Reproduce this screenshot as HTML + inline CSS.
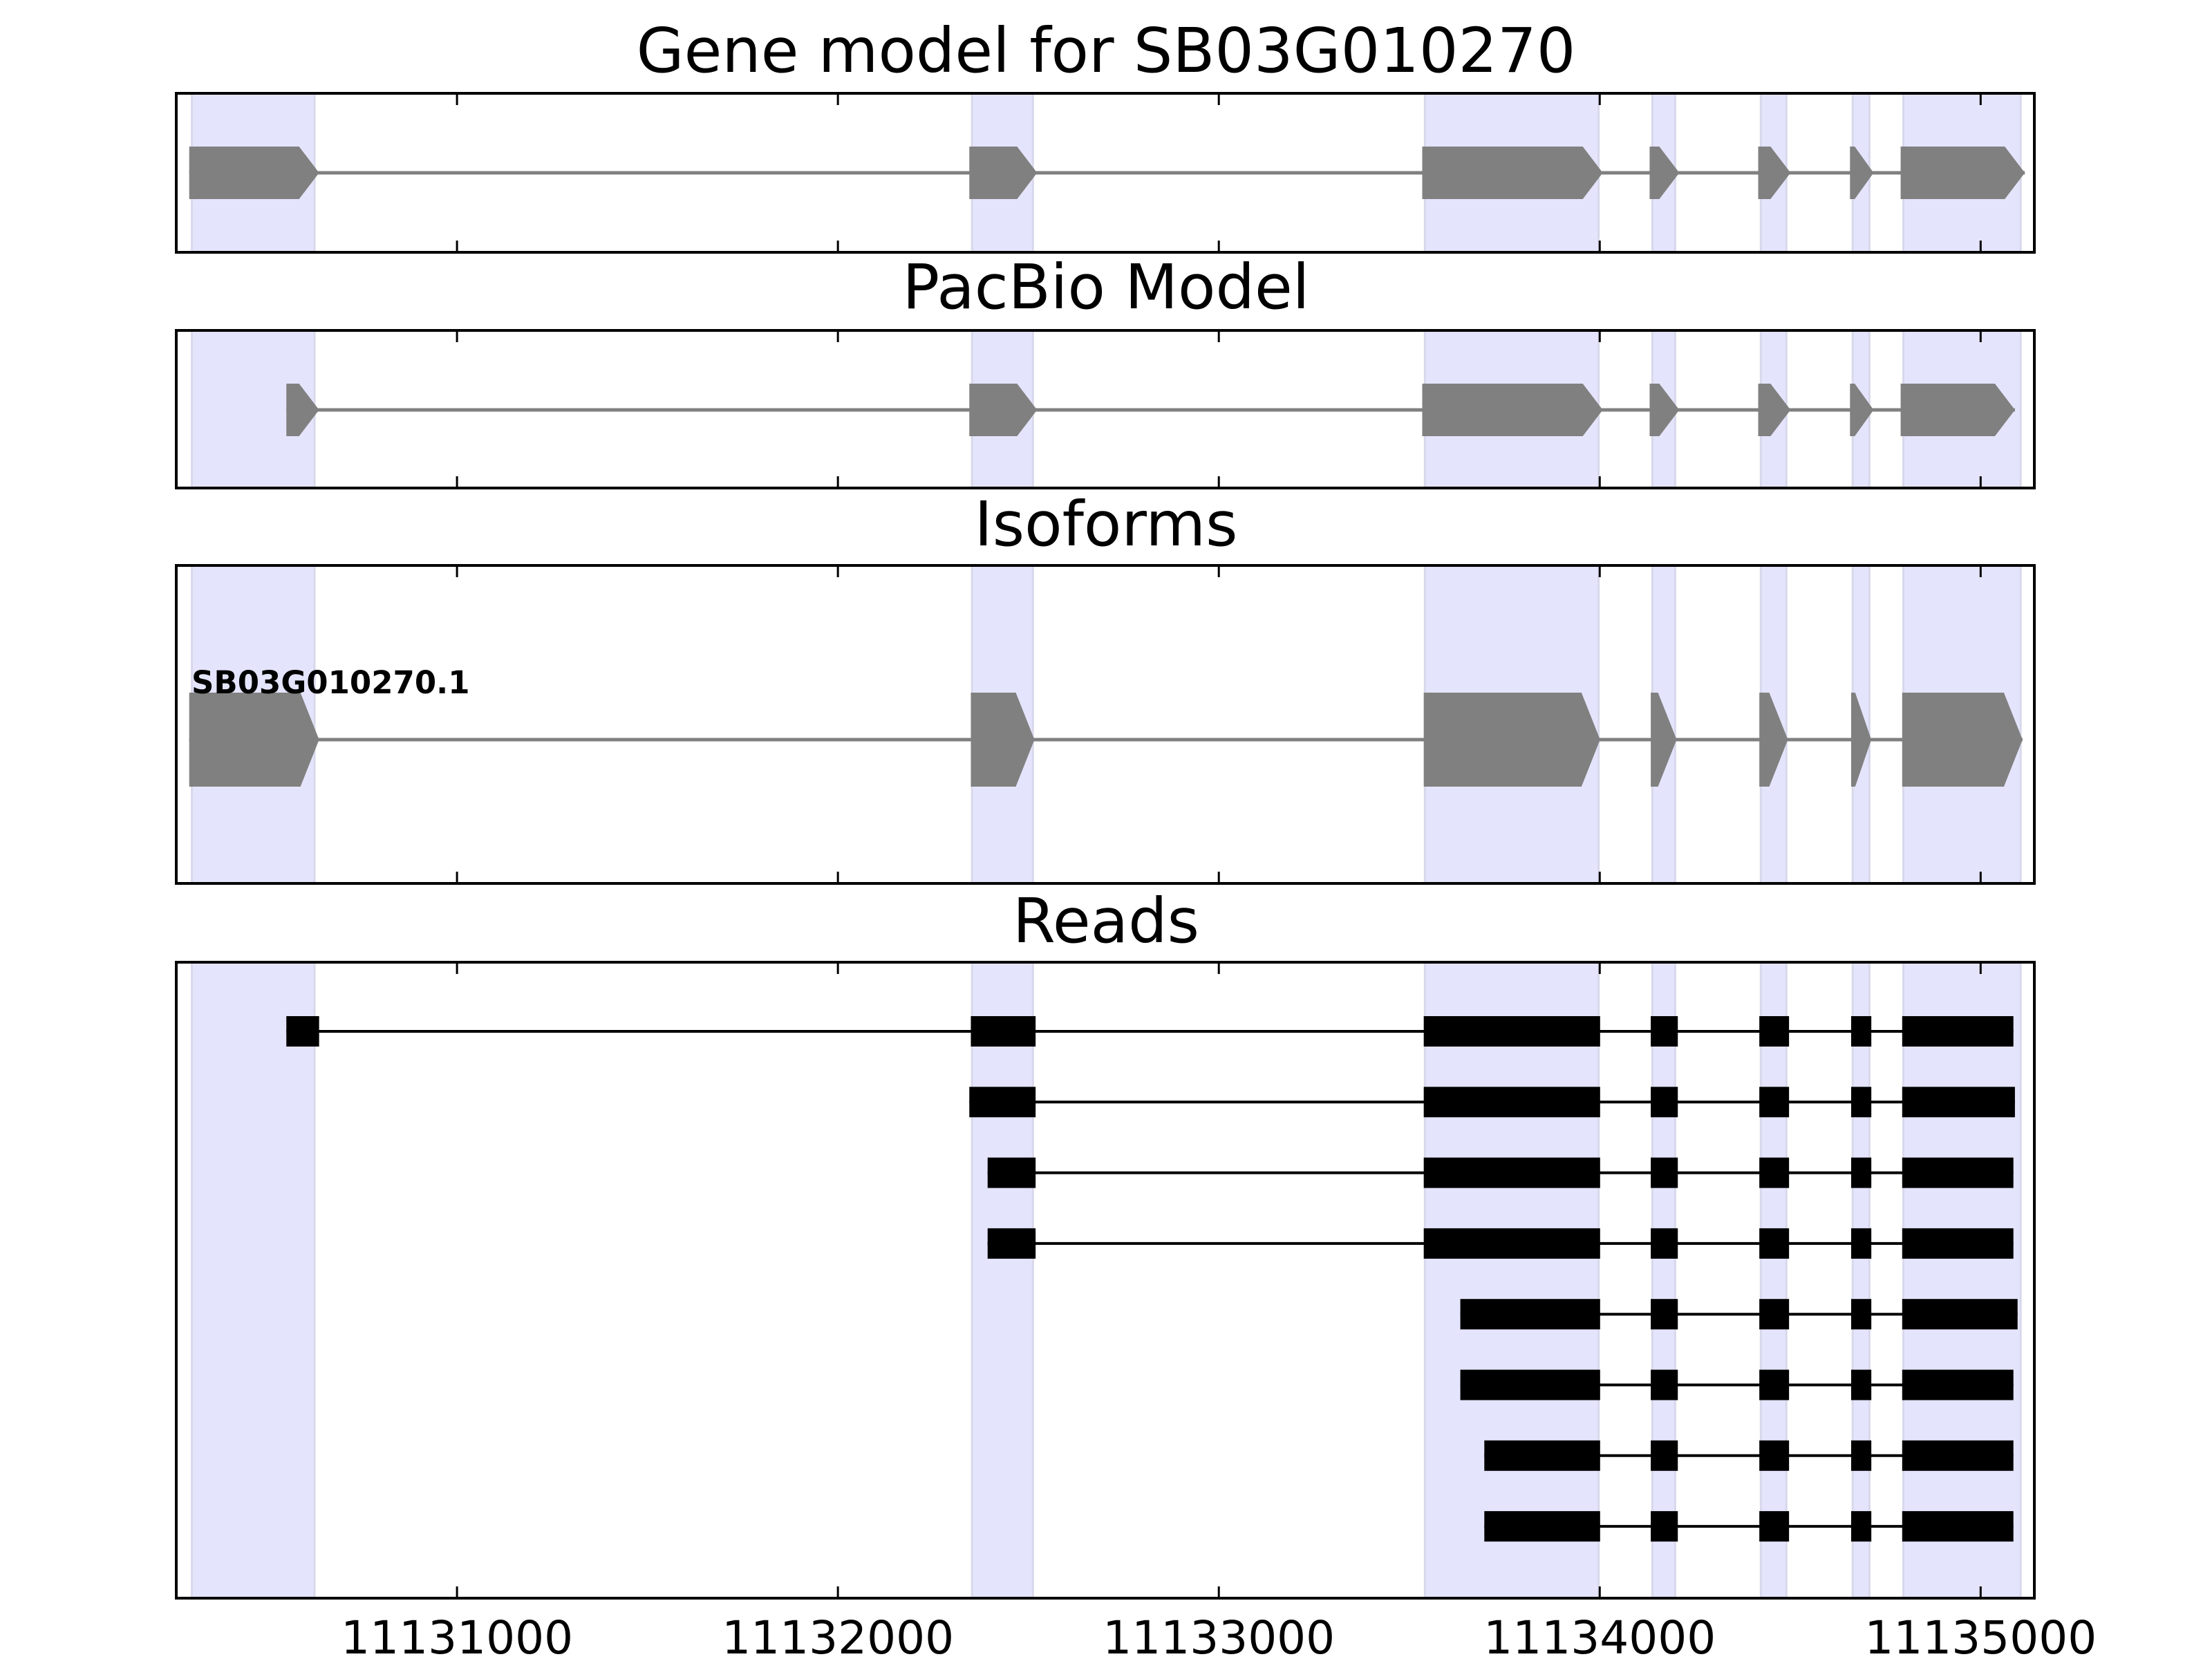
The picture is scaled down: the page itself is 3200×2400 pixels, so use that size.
<!DOCTYPE html>
<html><head><meta charset="utf-8"><style>
html,body{margin:0;padding:0;background:#fff;}
svg{display:block;font-family:"DejaVu Sans","Liberation Sans",sans-serif;}
</style></head><body>
<svg id="chart" width="3200" height="2400" viewBox="0 0 3200 2400" xmlns="http://www.w3.org/2000/svg"></svg>
<script>
// ---- data ----
const xTicks = [11131000, 11132000, 11133000, 11134000, 11135000];
const xTickLabels = ["11131000", "11132000", "11133000", "11134000", "11135000"];
const shadedRegions = [[11130304,11130626],[11132352,11132512],[11133541,11133997],[11134138,11134198],[11134423,11134490],[11134664,11134708],[11134797,11135105]];
const geneModelExons = [[11130297,11130638],[11132345,11132523],[11133534,11134008],[11134131,11134209],[11134416,11134501],[11134657,11134719],[11134790,11135116]];
const pacbioExons = [[11130552,11130638],[11132345,11132523],[11133534,11134008],[11134131,11134209],[11134416,11134501],[11134657,11134719],[11134790,11135090]];
const isoformExons = [[11130297,11130638],[11132349,11132516],[11133538,11134001],[11134134,11134202],[11134419,11134494],[11134660,11134713],[11134794,11135110]];
const isoformName = "SB03G010270.1";
const midExons = [[11134134,11134205],[11134419,11134497],[11134660,11134713]];
const read1 = [[11130552,11130638],[11132349,11132519],[11133538,11134001]].concat(midExons,[[11134794,11135086]]);
const read2 = [[11132345,11132519],[11133538,11134001]].concat(midExons,[[11134794,11135090]]);
const read3 = [[11132393,11132519],[11133538,11134001]].concat(midExons,[[11134794,11135086]]);
const read4 = [[11132393,11132519],[11133538,11134001]].concat(midExons,[[11134794,11135086]]);
const read5 = [[11133634,11134001]].concat(midExons,[[11134794,11135097]]);
const read6 = [[11133634,11134001]].concat(midExons,[[11134794,11135086]]);
const read7 = [[11133697,11134001]].concat(midExons,[[11134794,11135086]]);
const read8 = [[11133697,11134001]].concat(midExons,[[11134794,11135086]]);
const reads = [read1, read2, read3, read4, read5, read6, read7, read8];

// ---- layout ----
const NS = "http://www.w3.org/2000/svg";
const svg = document.getElementById("chart");
const X0 = 255, X1 = 2943;
const xMin = 11130263, xMax = 11135141;
function xs(v){ return X0 + (v - xMin) / (xMax - xMin) * (X1 - X0); }
function el(tag, attrs, parent){
  const e = document.createElementNS(NS, tag);
  for (const k in attrs) e.setAttribute(k, attrs[k]);
  (parent || svg).appendChild(e);
  return e;
}
const panels = [
  {name:"gene-model", title:"Gene model for SB03G010270", top:135, bottom:365, titleY:104},
  {name:"pacbio-model", title:"PacBio Model", top:478, bottom:706, titleY:446},
  {name:"isoforms", title:"Isoforms", top:818, bottom:1278, titleY:789},
  {name:"reads", title:"Reads", top:1392, bottom:2312, titleY:1363}
];

function drawArrowModel(g, exons, cy, h, tip, color){
  const a = exons[0][0], b = exons[exons.length-1][1];
  const ln = el("line", {x1:xs(a), x2:xs(b), y1:cy, y2:cy, stroke:color, "stroke-width":5}, g);
  
  
  exons.forEach(function(ex){
    const l = xs(ex[0]), r = xs(ex[1]);
    const t = Math.min(tip, (r - l) * 0.8);
    const p = el("polygon", {points:[l+","+(cy-h/2), (r-t)+","+(cy-h/2), r+","+cy, (r-t)+","+(cy+h/2), l+","+(cy+h/2)].join(" "), fill:color}, g);
    
    
  });
}

panels.forEach(function(p, idx){
  const g = el("g", {});
  
  
  shadedRegions.forEach(function(r){
    const rc = el("rect", {x:xs(r[0]), y:p.top, width:xs(r[1])-xs(r[0]), height:p.bottom-p.top, fill:"#e4e4fc", stroke:"#d8d8ec", "stroke-width":3}, g);
    
    
  });
  const t = el("text", {x:1600, y:p.titleY, "text-anchor":"middle", "font-size":89, fill:"#000"}, g);
  t.textContent = p.title;
  
  

  if (idx === 0) drawArrowModel(g, geneModelExons, 250, 76, 29, "#808080");
  if (idx === 1) drawArrowModel(g, pacbioExons, 593, 76, 29, "#808080");
  if (idx === 2) {
    drawArrowModel(g, isoformExons, 1070, 136, 27, "#808080");
    const lab = el("text", {x:277, y:1003, "font-size":45, "font-weight":"bold", fill:"#000"}, g);
    lab.textContent = isoformName;
    
    
  }
  if (idx === 3) {
    reads.forEach(function(rd, i){
      const cy = 1492 + i * 102.3;
      const rg = el("g", {}, g);
      
      
      el("line", {x1:xs(rd[0][0]), x2:xs(rd[rd.length-1][1]), y1:cy, y2:cy, stroke:"#000", "stroke-width":4}, rg);
      rd.forEach(function(ex){
        const b = el("rect", {x:xs(ex[0]), y:cy-22, width:xs(ex[1])-xs(ex[0]), height:44, fill:"#000"}, rg);
        
        
      });
    });
  }
  // ticks
  xTicks.forEach(function(v, i){
    const x = xs(v);
    el("line", {x1:x, x2:x, y1:p.top, y2:p.top+17, stroke:"#000", "stroke-width":3}, g);
    el("line", {x1:x, x2:x, y1:p.bottom, y2:p.bottom-17, stroke:"#000", "stroke-width":3}, g);
    if (idx === 3) {
      const tl = el("text", {x:x, y:2392, "text-anchor":"middle", "font-size":66, fill:"#000"}, g);
      tl.textContent = xTickLabels[i];
      
      
    }
  });
  const fr = el("rect", {x:X0, y:p.top, width:X1-X0, height:p.bottom-p.top, fill:"none", stroke:"#000", "stroke-width":4}, g);
  
  
});
</script>
</body></html>
